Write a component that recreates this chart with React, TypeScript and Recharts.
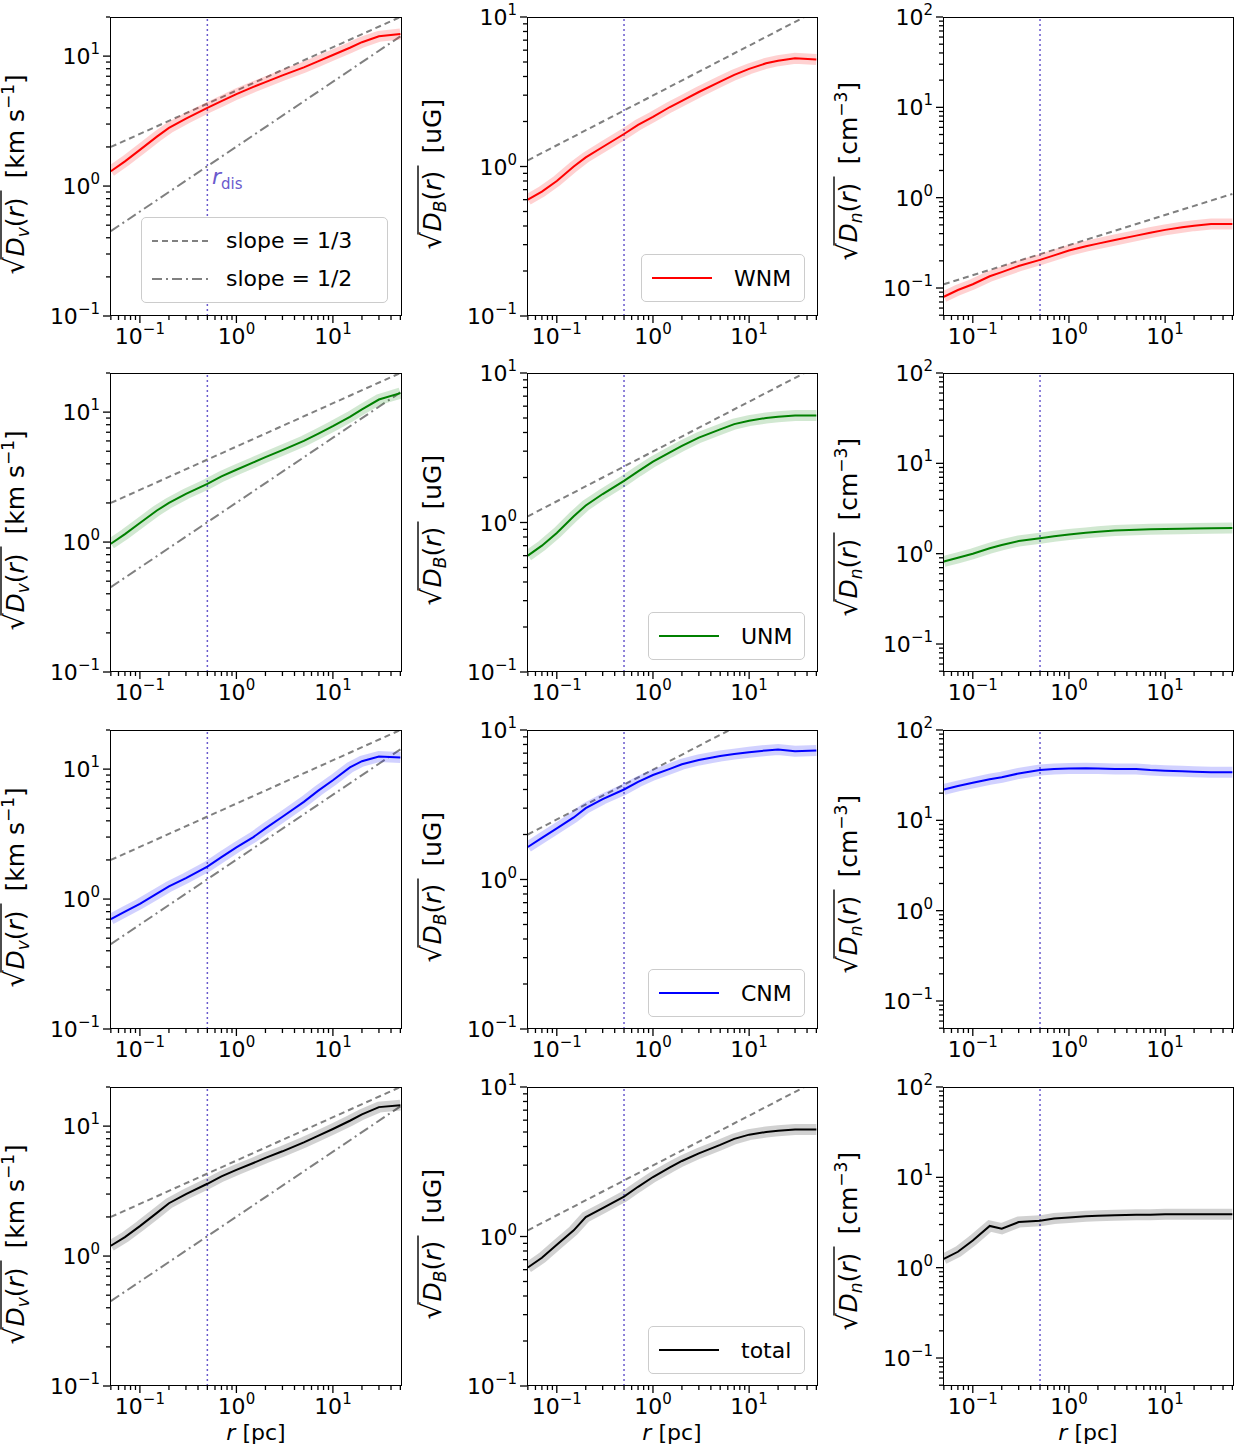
import React from 'react';
import { LineChart, Line, XAxis, YAxis, ReferenceLine } from 'recharts';

// sampled separations r [pc]
const rVals = [0.05, 0.07, 0.1, 0.15, 0.2, 0.3, 0.5, 0.7, 1, 1.5, 2, 3, 5, 7, 10, 15, 20, 30, 50];

// sqrt(D_v) [km/s]
const wnmV = [1.3, 1.55, 1.9, 2.4, 2.8, 3.3, 4.0, 4.5, 5.1, 5.8, 6.3, 7.1, 8.2, 9.1, 10.2, 11.6, 12.8, 14.2, 14.8];
const unmV = [0.97, 1.15, 1.4, 1.75, 2.0, 2.35, 2.8, 3.2, 3.6, 4.1, 4.5, 5.1, 6.0, 6.8, 7.8, 9.2, 10.5, 12.5, 14];
const cnmV = [0.7, 0.8, 0.92, 1.1, 1.25, 1.45, 1.78, 2.1, 2.5, 3.0, 3.5, 4.3, 5.6, 6.8, 8.2, 10.3, 11.5, 12.5, 12.3];
const totV = [1.2, 1.4, 1.7, 2.15, 2.55, 3.0, 3.6, 4.1, 4.6, 5.2, 5.7, 6.4, 7.5, 8.4, 9.5, 11, 12.3, 14, 14.5];

// sqrt(D_B) [uG]
const wnmB = [0.6, 0.68, 0.8, 1.0, 1.15, 1.35, 1.65, 1.9, 2.15, 2.5, 2.75, 3.15, 3.7, 4.1, 4.5, 4.9, 5.1, 5.3, 5.2];
const unmB = [0.6, 0.7, 0.85, 1.1, 1.3, 1.55, 1.9, 2.2, 2.55, 2.95, 3.25, 3.7, 4.2, 4.55, 4.8, 5.0, 5.1, 5.2, 5.2];
const cnmB = [1.65, 1.9, 2.2, 2.6, 3.0, 3.45, 4.0, 4.5, 5.0, 5.5, 5.9, 6.3, 6.7, 6.9, 7.1, 7.3, 7.4, 7.2, 7.3];
const totB = [0.62, 0.72, 0.88, 1.1, 1.35, 1.55, 1.85, 2.15, 2.5, 2.9, 3.2, 3.6, 4.1, 4.5, 4.8, 5.0, 5.1, 5.2, 5.2];

// sqrt(D_n) [cm^-3]
const wnmN = [0.08, 0.095, 0.11, 0.135, 0.15, 0.175, 0.205, 0.23, 0.26, 0.29, 0.31, 0.34, 0.38, 0.41, 0.44, 0.47, 0.49, 0.51, 0.51];
const unmN = [0.82, 0.9, 1.0, 1.15, 1.25, 1.38, 1.48, 1.56, 1.63, 1.7, 1.75, 1.8, 1.84, 1.86, 1.88, 1.89, 1.9, 1.91, 1.92];
const cnmN = [22, 24, 26, 28.5, 30, 33, 36, 37, 37.5, 37.8, 37.5, 37, 37, 36, 35.5, 35, 34.5, 34, 34];
const totN = [1.25, 1.5, 2.0, 2.9, 2.7, 3.2, 3.3, 3.5, 3.6, 3.7, 3.75, 3.8, 3.85, 3.85, 3.9, 3.9, 3.9, 3.9, 3.9];

// reference power laws (endpoints at r = 0.05 and 50 pc)
const refR = [0.05, 50];
const slope3V = [2.0, 20];
const slope2V = [0.45, 14.2];
const slope3B = [1.1, 11];
const slope3Bcnm = [2.0, 20];
const slope3N = [0.11, 1.1];

const rDis = 0.5;

const phases = [
  { name: 'WNM', color: '#ff0000', v: wnmV, b: wnmB, n: wnmN },
  { name: 'UNM', color: '#008000', v: unmV, b: unmB, n: unmN },
  { name: 'CNM', color: '#0000ff', v: cnmV, b: cnmB, n: cnmN },
  { name: 'total', color: '#000000', v: totV, b: totB, n: totN },
];

const cols = [
  { x: 110, w: 292, domain: [0.1, 20], sub: 'v', unit: 'km' },
  { x: 527, w: 291, domain: [0.1, 10], sub: 'B', unit: 'uG' },
  { x: 943, w: 291, domain: [0.049, 100], sub: 'n', unit: 'cm' },
];
const rowsY = [17, 373, 730, 1087];
const H = 299;
const PADL = 120;
const PADT = 20;

const FONT = 'DejaVu Sans, sans-serif';
const expOf = (v: number) => Math.round(Math.log10(v));
const isMajor = (v: number) => Math.abs(Math.log10(v) - expOf(v)) < 1e-6;

const minorTicks = (lo: number, hi: number) => {
  const out: number[] = [];
  for (let e = -2; e <= 2; e++) {
    for (let m = 1; m <= 9; m++) {
      const v = m * Math.pow(10, e);
      if (v >= lo * 0.999 && v <= hi * 1.001) out.push(v);
    }
  }
  return out;
};

const Pow = ({ v }: { v: number }) => {
  const e = expOf(v);
  return (
    <>
      10<tspan dy={-10} fontSize={15}>{e < 0 ? '\u2212' + -e : e}</tspan>
    </>
  );
};

const XTick = (props: any) => {
  const { x, y, payload } = props;
  const major = isMajor(payload.value);
  return (
    <g>
      <line x1={x} x2={x} y1={y} y2={y + (major ? 7 : 4)} stroke="#000" strokeWidth={1.3} />
      {major && (
        <text x={x} y={y + 28} textAnchor="middle" fontSize={22} fontFamily={FONT} fill="#000">
          <Pow v={payload.value} />
        </text>
      )}
    </g>
  );
};

const YTick = (props: any) => {
  const { x, y, payload } = props;
  const major = isMajor(payload.value);
  return (
    <g>
      <line x1={x} x2={x - (major ? 7 : 4)} y1={y} y2={y} stroke="#000" strokeWidth={1.3} />
      {major && (
        <text x={x - 10} y={y + 8} textAnchor="end" fontSize={22} fontFamily={FONT} fill="#000">
          <Pow v={payload.value} />
        </text>
      )}
    </g>
  );
};

const unitWidth: Record<string, number> = { km: 120, uG: 70, cm: 92 };

const YLabel = ({ sub, unit }: { sub: string; unit: string }) => {
  const cx = PADL - 86;
  const cy = PADT + H / 2;
  const inner = 66;
  const total = 18 + inner + 12 + unitWidth[unit];
  const x0 = -total / 2;
  const t = { fontSize: 25, fontFamily: FONT, fill: '#000' };
  return (
    <g transform={`translate(${cx},${cy}) rotate(-90)`}>
      <text x={x0} y={0} {...t} fontSize={27}>{'\u221A'}</text>
      <line x1={x0 + 15} x2={x0 + 18 + inner} y1={-23} y2={-23} stroke="#000" strokeWidth={1.4} />
      <text x={x0 + 18} y={0} {...t}>
        <tspan fontStyle="italic">D</tspan>
        <tspan fontSize={17} dy={5} fontStyle="italic">{sub}</tspan>
        <tspan dy={-5}>(</tspan>
        <tspan fontStyle="italic">r</tspan>)
      </text>
      <text x={x0 + 18 + inner + 12} y={0} {...t}>
        {unit === 'km' && (
          <>
            {'[km s'}
            <tspan dy={-10} fontSize={17}>{'\u22121'}</tspan>
            <tspan dy={10}>]</tspan>
          </>
        )}
        {unit === 'uG' && '[uG]'}
        {unit === 'cm' && (
          <>
            {'[cm'}
            <tspan dy={-10} fontSize={17}>{'\u22123'}</tspan>
            <tspan dy={10}>]</tspan>
          </>
        )}
      </text>
    </g>
  );
};

const refData = (ys: number[]) => refR.map((r, i) => ({ r, y: ys[i] }));

const Panel = ({ ci, ri }: { ci: number; ri: number }) => {
  const col = cols[ci];
  const ph = phases[ri];
  const vals = ci === 0 ? ph.v : ci === 1 ? ph.b : ph.n;
  const data = rVals.map((r, i) => ({ r, y: vals[i] }));
  const top = rowsY[ri];
  const xTicks = minorTicks(0.049, 52);
  const yTicks = minorTicks(col.domain[0], col.domain[1]);
  return (
    <div style={{ position: 'absolute', left: col.x - PADL, top: top - PADT }}>
      <LineChart width={col.w + PADL + 10} height={H + PADT + 60} data={data} margin={{ top: PADT, right: 10, bottom: 0, left: 0 }}>
        <XAxis
          dataKey="r" type="number" scale="log" domain={[0.049, 52]} allowDataOverflow
          ticks={xTicks} interval={0} tick={<XTick />} tickSize={0} tickMargin={0}
          axisLine={false} tickLine={false} height={60}
        />
        <YAxis
          type="number" scale="log" domain={col.domain} allowDataOverflow
          ticks={yTicks} interval={0} tick={<YTick />} tickSize={0} tickMargin={0}
          axisLine={false} tickLine={false} width={PADL}
          label={{ content: () => <YLabel sub={col.sub} unit={col.unit} /> }}
        />
        <ReferenceLine x={rDis} stroke="#6a5acd" strokeDasharray="2 3" strokeWidth={1.5} />
        {ci === 0 && (
          <Line data={refData(slope3V)} dataKey="y" stroke="#808080" strokeWidth={2} strokeDasharray="6 4" dot={false} isAnimationActive={false} />
        )}
        {ci === 0 && (
          <Line data={refData(slope2V)} dataKey="y" stroke="#808080" strokeWidth={2} strokeDasharray="10 4 2 4" dot={false} isAnimationActive={false} />
        )}
        {ci === 1 && (
          <Line data={refData(ri === 2 ? slope3Bcnm : slope3B)} dataKey="y" stroke="#808080" strokeWidth={2} strokeDasharray="6 4" dot={false} isAnimationActive={false} />
        )}
        {ci === 2 && ri === 0 && (
          <Line data={refData(slope3N)} dataKey="y" stroke="#808080" strokeWidth={2} strokeDasharray="6 4" dot={false} isAnimationActive={false} />
        )}
        <Line dataKey="y" stroke={ph.color} strokeOpacity={0.18} strokeWidth={11} dot={false} isAnimationActive={false} />
        <Line dataKey="y" stroke={ph.color} strokeWidth={2} dot={false} isAnimationActive={false} />
      </LineChart>
      <div style={{ position: 'absolute', left: PADL, top: PADT, width: col.w, height: H, border: '1.5px solid #000', boxSizing: 'border-box', pointerEvents: 'none' }} />
    </div>
  );
};

const boxStyle: React.CSSProperties = {
  position: 'absolute', background: '#fff', border: '1px solid #ccc', borderRadius: 5,
  fontFamily: FONT, fontSize: 22, boxSizing: 'border-box',
};

const PhaseLegend = ({ ri }: { ri: number }) => {
  const ph = phases[ri];
  const tops = [254, 612, 969, 1326];
  const left = ph.name === 'WNM' ? 641 : 648;
  return (
    <div style={{ ...boxStyle, left, top: tops[ri], width: 805 - left, height: 48, display: 'flex', alignItems: 'center' }}>
      <svg width={80} height={20} style={{ marginLeft: 8 }}>
        <line x1={2} x2={62} y1={10} y2={10} stroke={ph.color} strokeWidth={2} />
      </svg>
      <span style={{ marginLeft: 4 }}>{ph.name}</span>
    </div>
  );
};

export default function App() {
  const panels: React.ReactNode[] = [];
  for (let ri = 0; ri < 4; ri++) for (let ci = 0; ci < 3; ci++) panels.push(<Panel key={`${ri}-${ci}`} ci={ci} ri={ri} />);
  return (
    <div style={{ position: 'absolute', left: 0, top: 0, width: 1238, height: 1450, background: '#fff', fontFamily: FONT }}>
      {panels}
      {[0, 1, 2, 3].map((ri) => <PhaseLegend key={ri} ri={ri} />)}
      <div style={{ ...boxStyle, left: 141, top: 217, width: 247, height: 86 }}>
        {[
          { dash: '6 4', label: 'slope = 1/3', y: 10 },
          { dash: '10 4 2 4', label: 'slope = 1/2', y: 48 },
        ].map((it) => (
          <div key={it.label} style={{ position: 'absolute', left: 8, top: it.y, display: 'flex', alignItems: 'center' }}>
            <svg width={70} height={20}>
              <line x1={2} x2={62} y1={10} y2={10} stroke="#808080" strokeWidth={2} strokeDasharray={it.dash} />
            </svg>
            <span style={{ marginLeft: 6 }}>{it.label}</span>
          </div>
        ))}
      </div>
      <div style={{ position: 'absolute', left: 212, top: 164, color: '#6a5acd', fontSize: 22, fontFamily: FONT }}>
        <i>r</i><sub style={{ fontSize: 15 }}>dis</sub>
      </div>
      {[256, 672, 1088].map((cx) => (
        <div key={cx} style={{ position: 'absolute', left: cx - 50, width: 100, top: 1420, textAlign: 'center', fontSize: 22 }}>
          <i>r</i> [pc]
        </div>
      ))}
    </div>
  );
}
